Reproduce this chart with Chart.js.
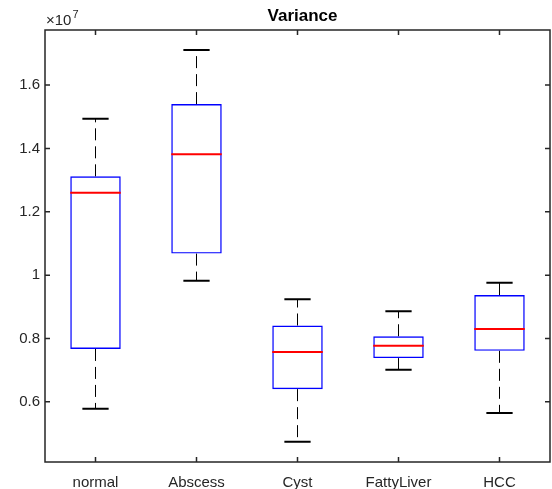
<!DOCTYPE html>
<html lang="en">
<head>
  <meta charset="UTF-8" />
  <title>Variance</title>
  <script src="https://cdn.jsdelivr.net/npm/chart.js"></script>
  <style>
    html, body { margin: 0; padding: 0; background: #fff; }
    canvas { display: block; }
  </style>
</head>
<body>
  <canvas id="boxChart" width="552" height="489"></canvas>

  <script>
    // values in raw units (axis shows them x 10^7)
    const categories = ["normal", "Abscess", "Cyst", "FattyLiver", "HCC"];
    const whiskerLow  = [0.578e7, 0.982e7, 0.474e7, 0.701e7, 0.565e7];
    const quartile1   = [0.767e7, 1.068e7, 0.640e7, 0.738e7, 0.761e7];
    const medians     = [1.260e7, 1.382e7, 0.757e7, 0.777e7, 0.830e7];
    const quartile3   = [1.312e7, 1.540e7, 0.841e7, 0.807e7, 0.937e7];
    const whiskerHigh = [1.494e7, 1.711e7, 0.924e7, 0.886e7, 0.976e7];
    const yTicks = [0.6e7, 0.8e7, 1.0e7, 1.2e7, 1.4e7, 1.6e7];

    const axisColor = "#262626";
    const fontFamily = "Arial, 'Liberation Sans', Helvetica, sans-serif";

    // whiskers, caps, medians, the axes frame, inward ticks, title and exponent
    const boxExtras = {
      id: "boxExtras",
      afterDatasetsDraw(chart) {
        const ctx = chart.ctx;
        const xs = chart.scales.x, ys = chart.scales.y;
        const step = xs.getPixelForValue(1) - xs.getPixelForValue(0);
        const boxHalf = step * 0.25;
        const capHalf = step * 0.13;
        ctx.save();
        categories.forEach((c, i) => {
          const x = xs.getPixelForValue(i);
          const q1 = ys.getPixelForValue(quartile1[i]);
          const q3 = ys.getPixelForValue(quartile3[i]);
          const lo = ys.getPixelForValue(whiskerLow[i]);
          const hi = ys.getPixelForValue(whiskerHigh[i]);
          const md = ys.getPixelForValue(medians[i]);

          // dashed whiskers
          ctx.strokeStyle = "#000";
          ctx.lineWidth = 1;
          ctx.setLineDash([12, 6]);
          ctx.beginPath();
          ctx.moveTo(x, q3); ctx.lineTo(x, hi);
          ctx.moveTo(x, q1); ctx.lineTo(x, lo);
          ctx.stroke();

          // caps
          ctx.setLineDash([]);
          ctx.lineWidth = 2;
          ctx.beginPath();
          ctx.moveTo(x - capHalf, hi); ctx.lineTo(x + capHalf, hi);
          ctx.moveTo(x - capHalf, lo); ctx.lineTo(x + capHalf, lo);
          ctx.stroke();

          // median
          ctx.strokeStyle = "#ff0000";
          ctx.lineWidth = 2;
          ctx.beginPath();
          ctx.moveTo(x - boxHalf, md); ctx.lineTo(x + boxHalf, md);
          ctx.stroke();
        });
        ctx.restore();
      },
      afterDraw(chart) {
        const ctx = chart.ctx;
        const a = chart.chartArea;
        const xs = chart.scales.x, ys = chart.scales.y;
        const tick = 5;
        ctx.save();
        ctx.strokeStyle = axisColor;
        ctx.lineWidth = 1.5;
        ctx.strokeRect(a.left, a.top, a.right - a.left, a.bottom - a.top);

        ctx.beginPath();
        yTicks.forEach(v => {
          const y = ys.getPixelForValue(v);
          ctx.moveTo(a.left, y); ctx.lineTo(a.left + tick, y);
          ctx.moveTo(a.right, y); ctx.lineTo(a.right - tick, y);
        });
        categories.forEach((c, i) => {
          const x = xs.getPixelForValue(i);
          ctx.moveTo(x, a.bottom); ctx.lineTo(x, a.bottom - tick);
          ctx.moveTo(x, a.top); ctx.lineTo(x, a.top + tick);
        });
        ctx.stroke();

        // title
        ctx.fillStyle = "#000";
        ctx.font = "bold 17px " + fontFamily;
        ctx.textAlign = "center";
        ctx.textBaseline = "alphabetic";
        ctx.fillText("Variance", (a.left + a.right) / 2 + 5, 21);

        // exponent label
        ctx.fillStyle = axisColor;
        ctx.textAlign = "left";
        ctx.font = "15px " + fontFamily;
        ctx.fillText("\u00d710", a.left + 1, 25);
        const w = ctx.measureText("\u00d710").width;
        ctx.font = "11px " + fontFamily;
        ctx.fillText("7", a.left + 2 + w, 18);
        ctx.restore();
      }
    };

    new Chart(document.getElementById("boxChart"), {
      type: "bar",
      data: {
        labels: categories,
        datasets: [{
          data: categories.map((c, i) => [quartile1[i], quartile3[i]]),
          backgroundColor: "rgba(0,0,0,0)",
          borderColor: "#0000ff",
          borderWidth: 1.4,
          borderSkipped: false,
          categoryPercentage: 1,
          barPercentage: 0.5
        }]
      },
      options: {
        responsive: false,
        animation: false,
        layout: { padding: { top: 30, right: 2, left: 0, bottom: 0 } },
        plugins: {
          legend: { display: false },
          title: { display: false },
          tooltip: { enabled: false }
        },
        scales: {
          x: {
            grid: { display: false, drawTicks: false },
            border: { display: false },
            ticks: {
              color: axisColor,
              padding: 12,
              font: { family: fontFamily, size: 15 }
            },
            afterFit(scale) { scale.height = 27; }
          },
          y: {
            min: 0.41e7,
            max: 1.774e7,
            grid: { display: false, drawTicks: false },
            border: { display: false },
            afterBuildTicks(scale) {
              scale.ticks = yTicks.map(v => ({ value: v }));
            },
            ticks: {
              color: axisColor,
              padding: 5,
              font: { family: fontFamily, size: 15 },
              callback: v => String(Math.round(v / 1e6) / 10)
            },
            afterFit(scale) { scale.width = 45; }
          }
        }
      },
      plugins: [boxExtras]
    });
  </script>
</body>
</html>
